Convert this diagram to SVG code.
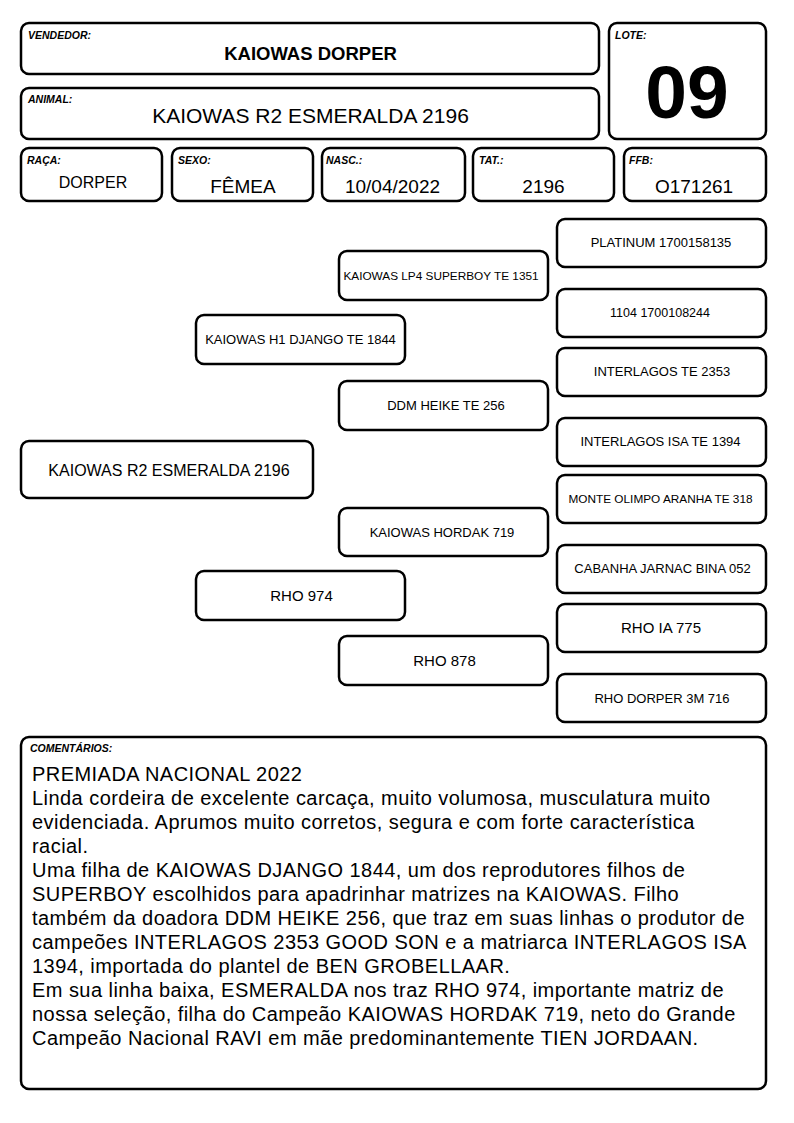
<svg xmlns="http://www.w3.org/2000/svg" width="794" height="1123" viewBox="0 0 794 1123">
<style>
.b{fill:#fff;stroke:#000;stroke-width:2.5}
.lb{font-family:"Liberation Sans",Arial,sans-serif;font-size:10.5px;font-weight:bold;font-style:italic;fill:#000}
.v{font-family:"Liberation Sans",Arial,sans-serif;fill:#000;text-anchor:middle}
.p{font-family:"Liberation Sans",Arial,sans-serif;fill:#000;text-anchor:middle;font-size:13px}
.s{font-size:11.8px}
.m{font-size:12.5px}
.l{font-size:15px}
.c{font-family:"Liberation Sans",Arial,sans-serif;fill:#000;font-size:20px;letter-spacing:0.45px}
</style>
<rect width="794" height="1123" fill="#fff"/>
<g id="vendedor">
<rect class="b" x="21" y="23" width="578" height="51" rx="8"/>
<text class="lb" x="28" y="39">VENDEDOR:</text>
<text class="v" x="310.5" y="60" font-size="18.5" font-weight="bold">KAIOWAS DORPER</text>
</g>
<g id="animal">
<rect class="b" x="21" y="88" width="578" height="51" rx="8"/>
<text class="lb" x="28" y="103">ANIMAL:</text>
<text class="v" x="310.5" y="123" font-size="21">KAIOWAS R2 ESMERALDA 2196</text>
</g>
<g id="lote">
<rect class="b" x="609" y="23" width="157" height="116" rx="8"/>
<text class="lb" x="615" y="39">LOTE:</text>
<text class="v" x="687" y="118" font-size="75" font-weight="bold">09</text>
</g>
<g id="raca">
<rect class="b" x="21" y="148" width="141" height="53" rx="8"/>
<text class="lb" x="27" y="164">RAÇA:</text>
<text class="v" x="93" y="188" font-size="16">DORPER</text>
</g>
<g id="sexo">
<rect class="b" x="172" y="148" width="141" height="53" rx="8"/>
<text class="lb" x="178" y="164">SEXO:</text>
<text class="v" x="243" y="193" font-size="19">FÊMEA</text>
</g>
<g id="nasc">
<rect class="b" x="322" y="148" width="143" height="53" rx="8"/>
<text class="lb" x="326" y="164">NASC.:</text>
<text class="v" x="392.5" y="193" font-size="19">10/04/2022</text>
</g>
<g id="tat">
<rect class="b" x="473" y="148" width="141" height="53" rx="8"/>
<text class="lb" x="479" y="164">TAT.:</text>
<text class="v" x="543.5" y="193" font-size="19">2196</text>
</g>
<g id="ffb">
<rect class="b" x="624" y="148" width="142" height="53" rx="8"/>
<text class="lb" x="629" y="164">FFB:</text>
<text class="v" x="694" y="193" font-size="19">O171261</text>
</g>
<g id="connectors"></g>
<g id="platinum">
<rect class="b" x="557" y="219" width="209" height="48" rx="8"/>
<text class="p" x="661" y="247">PLATINUM 1700158135</text>
</g>
<g id="superboy">
<rect class="b" x="339" y="251" width="209" height="49" rx="8"/>
<text class="p s" x="441" y="280">KAIOWAS LP4 SUPERBOY TE 1351</text>
</g>
<g id="n1104">
<rect class="b" x="557" y="289" width="209" height="48" rx="8"/>
<text class="p m" x="660" y="316.5">1104 1700108244</text>
</g>
<g id="django">
<rect class="b" x="196" y="315" width="209" height="49" rx="8"/>
<text class="p" x="300.5" y="344">KAIOWAS H1 DJANGO TE 1844</text>
</g>
<g id="interlagos2353">
<rect class="b" x="557" y="348" width="209" height="48" rx="8"/>
<text class="p" x="662" y="375.5">INTERLAGOS TE 2353</text>
</g>
<g id="heike">
<rect class="b" x="339" y="381" width="209" height="49" rx="8"/>
<text class="p" x="446" y="410">DDM HEIKE TE 256</text>
</g>
<g id="isa">
<rect class="b" x="557" y="418" width="209" height="48" rx="8"/>
<text class="p" x="660.5" y="445.5">INTERLAGOS ISA TE 1394</text>
</g>
<g id="esmeralda">
<rect class="b" x="21" y="441" width="292" height="57" rx="8"/>
<text class="v" x="169" y="475.5" font-size="16">KAIOWAS R2 ESMERALDA 2196</text>
</g>
<g id="aranha">
<rect class="b" x="557" y="475" width="209" height="48" rx="8"/>
<text class="p s" x="660.5" y="502.5">MONTE OLIMPO ARANHA TE 318</text>
</g>
<g id="hordak">
<rect class="b" x="339" y="508" width="209" height="48" rx="8"/>
<text class="p" x="442" y="536.5">KAIOWAS HORDAK 719</text>
</g>
<g id="bina">
<rect class="b" x="557" y="545" width="209" height="48" rx="8"/>
<text class="p" x="662.5" y="572.5">CABANHA JARNAC BINA 052</text>
</g>
<g id="rho974">
<rect class="b" x="196" y="571" width="209" height="49" rx="8"/>
<text class="p l" x="301.5" y="601">RHO 974</text>
</g>
<g id="rhoia775">
<rect class="b" x="557" y="604" width="209" height="48" rx="8"/>
<text class="p l" x="661" y="632.5">RHO IA 775</text>
</g>
<g id="rho878">
<rect class="b" x="339" y="636" width="209" height="49" rx="8"/>
<text class="p l" x="444.5" y="666">RHO 878</text>
</g>
<g id="rho716">
<rect class="b" x="557" y="674" width="209" height="48" rx="8"/>
<text class="p" x="662" y="702.5">RHO DORPER 3M 716</text>
</g>
<g id="comentarios">
<rect class="b" x="21" y="737" width="745" height="352" rx="8"/>
<text class="lb" x="30" y="752">COMENTÁRIOS:</text>
<text class="c" x="32" y="781">PREMIADA NACIONAL 2022</text>
<text class="c" x="32" y="805">Linda cordeira de excelente carcaça, muito volumosa, musculatura muito</text>
<text class="c" x="32" y="829">evidenciada. Aprumos muito corretos, segura e com forte característica</text>
<text class="c" x="32" y="853">racial.</text>
<text class="c" x="32" y="877">Uma filha de KAIOWAS DJANGO 1844, um dos reprodutores filhos de</text>
<text class="c" x="32" y="901">SUPERBOY escolhidos para apadrinhar matrizes na KAIOWAS. Filho</text>
<text class="c" x="32" y="925">também da doadora DDM HEIKE 256, que traz em suas linhas o produtor de</text>
<text class="c" x="32" y="949">campeões INTERLAGOS 2353 GOOD SON e a matriarca INTERLAGOS ISA</text>
<text class="c" x="32" y="973">1394, importada do plantel de BEN GROBELLAAR.</text>
<text class="c" x="32" y="997">Em sua linha baixa, ESMERALDA nos traz RHO 974, importante matriz de</text>
<text class="c" x="32" y="1021">nossa seleção, filha do Campeão KAIOWAS HORDAK 719, neto do Grande</text>
<text class="c" x="32" y="1045">Campeão Nacional RAVI em mãe predominantemente TIEN JORDAAN.</text>
</g>
</svg>
